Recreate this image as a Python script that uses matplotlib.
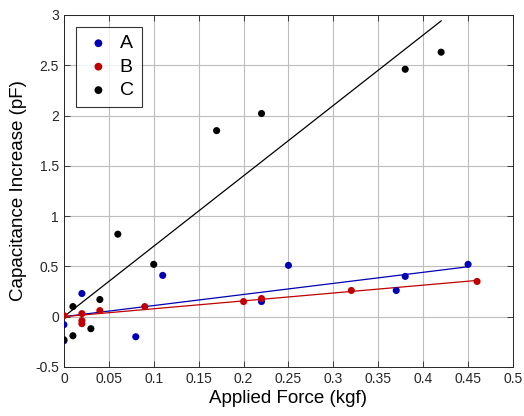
import numpy as np
import matplotlib
matplotlib.use("Agg")
import matplotlib.pyplot as plt

plt.rcParams['font.family'] = ['Liberation Sans', 'DejaVu Sans']

# Data
xA = [0, 0, 0.02, 0.08, 0.11, 0.22, 0.25, 0.37, 0.38, 0.45]
yA = [-0.08, -0.24, 0.23, -0.20, 0.41, 0.15, 0.51, 0.26, 0.40, 0.52]

xB = [0, 0.02, 0.02, 0.02, 0.04, 0.09, 0.20, 0.22, 0.32, 0.46]
yB = [0.01, 0.03, -0.04, -0.07, 0.06, 0.10, 0.15, 0.18, 0.26, 0.35]

xC = [0, 0.01, 0.01, 0.03, 0.04, 0.06, 0.10, 0.17, 0.22, 0.38, 0.42]
yC = [-0.23, 0.10, -0.19, -0.12, 0.17, 0.82, 0.52, 1.85, 2.02, 2.46, 2.63]

labels = ['A', 'B', 'C']
colors = ['#0000b4', '#c00000', 'black']

fig = plt.figure(figsize=(5.24, 4.16), dpi=100)
ax = fig.add_axes([0.122, 0.118, 0.857, 0.846])

for x, y, lab, col in zip([xA, xB, xC], [yA, yB, yC], labels, colors):
    x = np.array(x)
    y = np.array(y)
    ax.scatter(x, y, s=26, color=col, edgecolors='none', label=lab, zorder=3)
    # linear fit through origin
    k = np.sum(x * y) / np.sum(x * x)
    xs = np.array([0, x.max()])
    ax.plot(xs, k * xs, color=col, lw=0.9, zorder=2)

ax.set_xlim(0, 0.5)
ax.set_ylim(-0.5, 3)
ax.set_xticks(np.arange(0, 0.51, 0.05))
ax.set_xticklabels(['0', '0.05', '0.1', '0.15', '0.2', '0.25', '0.3',
                    '0.35', '0.4', '0.45', '0.5'])
ax.set_yticks(np.arange(-0.5, 3.01, 0.5))
ax.set_yticklabels(['-0.5', '0', '0.5', '1', '1.5', '2', '2.5', '3'])
ax.tick_params(direction='in', top=True, right=True, labelsize=10,
               length=4, width=0.6, colors='#262626')
ax.grid(True, color='#bdbdbd', lw=0.8)
ax.set_axisbelow(True)
for s in ax.spines.values():
    s.set_color('#262626')
    s.set_linewidth(0.7)

ax.set_xlabel('Applied Force (kgf)', fontsize=13.5, labelpad=3)
ax.set_ylabel('Capacitance Increase (pF)', fontsize=13.5, labelpad=6)

leg = ax.legend(loc='upper left', bbox_to_anchor=(0.027, 0.966), fontsize=14,
                frameon=True, fancybox=False, edgecolor='black',
                borderaxespad=0, handletextpad=0.35, borderpad=0.4,
                labelspacing=0.3, handlelength=1.5, markerscale=1.1)
leg.get_frame().set_linewidth(0.8)

fig.savefig('out.png', dpi=100)
